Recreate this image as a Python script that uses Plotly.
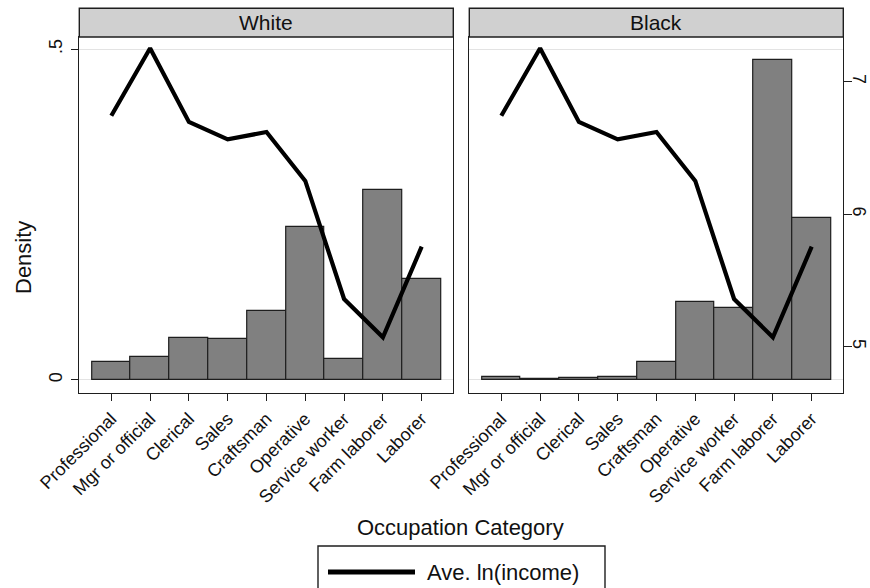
import plotly.graph_objects as go

categories = ["Professional", "Mgr or official", "Clerical", "Sales", "Craftsman",
              "Operative", "Service worker", "Farm laborer", "Laborer"]
density_white = [0.0267, 0.0348, 0.0640, 0.0615, 0.1048, 0.2318, 0.0318, 0.2868, 0.1532]
density_black = [0.0045, 0.0020, 0.0035, 0.0040, 0.0277, 0.1184, 0.1089, 0.4838, 0.2445]
ave_ln_income = [6.743, 7.252, 6.696, 6.565, 6.620, 6.251, 5.360, 5.071, 5.755]
panels = ["White", "Black"]
density_ticks = [0, 0.5]
density_ticktext = ["0", ".5"]
income_ticks = [5, 6, 7]

W, H = 870, 588
FONT = "Liberation Sans, Arial, Helvetica, sans-serif"
FRAME = "#1e1e1e"
GRID = "#e3e3e3"


def px(x):
    return x / W


def py(y):
    return 1 - y / H


top, bottom = 37, 393
lx0, lx1 = 79.3, 453.3
rx0, rx1 = 469.3, 843.3
xrange_ = [-0.825, 8.815]
drange = [-0.0197, 0.5186]
irange = [4.651, 7.337]

fig = go.Figure()
for dens, xa, ya in [(density_white, "x", "y"), (density_black, "x2", "y3")]:
    fig.add_trace(go.Bar(x=categories, y=dens, xaxis=xa, yaxis=ya,
                         marker=dict(color="#808080", line=dict(color=FRAME, width=1.2)),
                         showlegend=False, hoverinfo="skip"))
for xa, ya in [("x", "y2"), ("x2", "y4")]:
    fig.add_trace(go.Scatter(x=categories, y=ave_ln_income, xaxis=xa, yaxis=ya,
                             mode="lines", line=dict(color="black", width=4.2),
                             name="Ave. ln(income)", showlegend=False, hoverinfo="skip"))

xcommon = dict(type="category", categoryorder="array", categoryarray=categories,
               range=xrange_, tickangle=-45, ticks="outside", ticklen=7, tickcolor=FRAME,
               tickwidth=1.2, showline=True, mirror=True, linecolor=FRAME, linewidth=1.4,
               showgrid=False, tickfont=dict(size=18, color="#111"), fixedrange=True,
               automargin=False)
ydens = dict(range=drange, tickvals=density_ticks, ticktext=density_ticktext,
             showline=True, mirror=True, linecolor=FRAME, linewidth=1.4,
             showgrid=True, gridcolor=GRID, gridwidth=1.2, zeroline=False,
             domain=[py(bottom), py(top)], automargin=False, fixedrange=True)

fig.update_layout(
    width=W, height=H, margin=dict(l=0, r=0, t=0, b=0, autoexpand=False),
    paper_bgcolor="white", plot_bgcolor="white", bargap=0,
    font=dict(family=FONT, color="#111"), showlegend=False,
    xaxis=dict(domain=[px(lx0), px(lx1)], anchor="y", **xcommon),
    xaxis2=dict(domain=[px(rx0), px(rx1)], anchor="y3", **xcommon),
    yaxis=dict(anchor="x", tickangle=-90, ticks="outside", ticklen=7, tickcolor=FRAME,
               tickwidth=1.2, tickfont=dict(size=18), ticklabelstandoff=2, **ydens),
    yaxis3=dict(anchor="x2", showticklabels=False, ticks="", **ydens),
    yaxis2=dict(overlaying="y", anchor="x", side="right", range=irange, visible=False,
                automargin=False, fixedrange=True),
    yaxis4=dict(overlaying="y3", anchor="x2", side="right", range=irange,
                tickvals=income_ticks, tickangle=90, ticks="outside", ticklen=8,
                tickcolor=FRAME, tickwidth=1.2, showline=False, showgrid=False,
                zeroline=False, tickfont=dict(size=18), automargin=False,
                ticklabelstandoff=-6, fixedrange=True),
)

shapes = []
annotations = []
for name, x0, x1 in [(panels[0], lx0, lx1), (panels[1], rx0, rx1)]:
    shapes.append(dict(type="rect", xref="paper", yref="paper", x0=px(x0), x1=px(x1),
                       y0=py(top), y1=py(8.3), fillcolor="#d0d0d0",
                       line=dict(color=FRAME, width=1.4), layer="above"))
    annotations.append(dict(text=name, xref="paper", yref="paper", x=px((x0 + x1) / 2),
                            y=py(22.5), showarrow=False, font=dict(size=21),
                            xanchor="center", yanchor="middle"))

annotations.append(dict(text="Density", xref="paper", yref="paper", x=px(24), y=py(258),
                        textangle=-90, showarrow=False, font=dict(size=22),
                        xanchor="center", yanchor="middle"))
annotations.append(dict(text="Occupation Category", xref="paper", yref="paper", x=px(460),
                        y=py(527), showarrow=False, font=dict(size=22),
                        xanchor="center", yanchor="middle"))
# legend box
shapes.append(dict(type="rect", xref="paper", yref="paper", x0=px(318), x1=px(605),
                   y0=py(600), y1=py(546), fillcolor="white",
                   line=dict(color=FRAME, width=1.4)))
shapes.append(dict(type="line", xref="paper", yref="paper", x0=px(328), x1=px(415),
                   y0=py(572), y1=py(572), line=dict(color="black", width=5)))
annotations.append(dict(text="Ave. ln(income)", xref="paper", yref="paper", x=px(425),
                        y=py(572), showarrow=False, font=dict(size=22),
                        xanchor="left", yanchor="middle"))

fig.update_layout(shapes=shapes, annotations=annotations)
fig.write_html("out.html", config={"displayModeBar": False},
               post_script="document.body.style.margin='0';document.body.style.overflow='hidden';")
